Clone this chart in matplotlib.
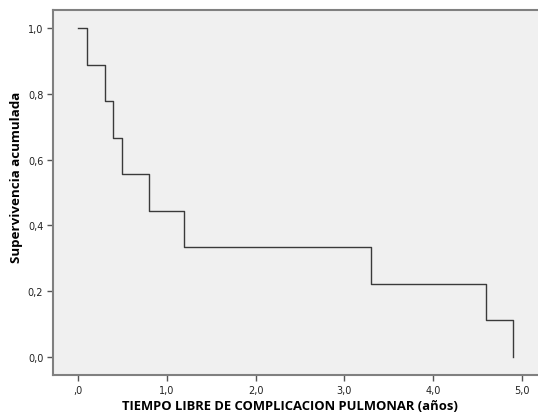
import matplotlib
matplotlib.use("Agg")
import matplotlib.pyplot as plt
from matplotlib.ticker import FuncFormatter

# Kaplan-Meier steps
tiempo = [0.0, 0.1, 0.3, 0.4, 0.5, 0.8, 1.2, 3.3, 4.6, 4.9]
supervivencia = [1.0, 0.889, 0.778, 0.667, 0.556, 0.444, 0.333, 0.222, 0.111, 0.0]

xticks = [0, 1, 2, 3, 4, 5]
yticks = [0.0, 0.2, 0.4, 0.6, 0.8, 1.0]


def fmt_x(v, pos):
    s = "%.1f" % v
    if s.startswith("0"):
        s = s[1:]
    return s.replace(".", ",")


def fmt_y(v, pos):
    return ("%.1f" % v).replace(".", ",")


fig = plt.figure(figsize=(5.38, 4.14), dpi=100)
ax = fig.add_axes([53 / 538, 38 / 414, 1 - 53 / 538, 365 / 414])
ax.set_facecolor("#f0f0f0")

ax.step(tiempo, supervivencia, where="post", color="#3a3a3a", lw=1.0)

ax.set_xlim(-0.28, 5.18)
ax.set_ylim(-0.055, 1.055)
ax.set_xticks(xticks)
ax.set_yticks(yticks)
ax.xaxis.set_major_formatter(FuncFormatter(fmt_x))
ax.yaxis.set_major_formatter(FuncFormatter(fmt_y))

for side in ["left", "bottom", "top"]:
    ax.spines[side].set_color("#808080")
    ax.spines[side].set_linewidth(1.5)
ax.spines["right"].set_visible(False)

ax.tick_params(direction="out", length=4, width=1, color="#555555",
               labelsize=7, labelcolor="#222222", pad=3)

ax.set_xlabel("TIEMPO LIBRE DE COMPLICACION PULMONAR (años)",
              fontsize=9.4, fontweight="bold", family="Open Sans")
ax.set_ylabel("Supervivencia acumulada", fontsize=9.6, fontweight="bold",
              family="Open Sans")
ax.xaxis.set_label_coords(0.489, -0.066)
ax.yaxis.set_label_coords(-0.062, 0.545)

fig.savefig("out.png", dpi=100)
